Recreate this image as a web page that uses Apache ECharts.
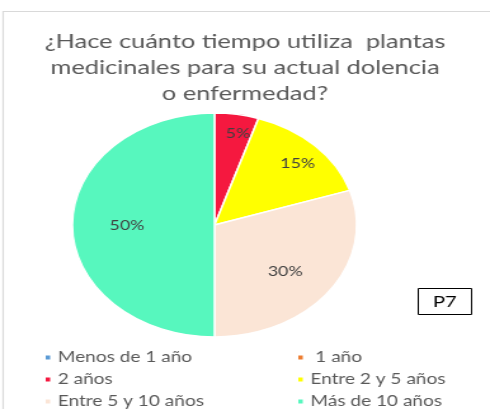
<!DOCTYPE html>
<html><head><meta charset="utf-8">
<script src="https://cdn.jsdelivr.net/npm/echarts@6/dist/echarts.min.js"></script>
<style>html,body{margin:0;padding:0;background:#fff;overflow:hidden;width:490px;height:409px}
#chart{width:386px;height:409px;transform:scaleX(1.2694);transform-origin:0 0;}</style>
</head><body><div id="chart"></div>
<script>
const titleText = "¿Hace cuánto tiempo utiliza  plantas\nmedicinales para su actual dolencia\no enfermedad?";
const categories = ["Menos de 1 año", " 1 año", "2 años", "Entre 2 y 5 años", "Entre 5 y 10 años", "Más de 10 años"];
const values = [0, 0, 5, 15, 30, 50];
const colors = ["#5B9BD5", "#ED7D31", "#F5183F", "#FFFF00", "#FBE5D6", "#57F7BE"];
const leftLegend = [categories[0], categories[2], categories[4]];
const rightLegend = [categories[1], categories[3], categories[5]];
const boxLabel = "P7";
const labelShift = [[0, 0], [0, 0], [6, -13], [9, -5], [-9, -1], [11, 0]];

const data = categories.map((c, i) => ({ name: c, value: values[i] }));
const FONT = "Lato";
const chart = echarts.init(document.getElementById('chart'), null, { renderer: 'canvas' });
const legendCommon = {
  orient: 'vertical', icon: 'rect', itemWidth: 5.5, itemHeight: 6, itemGap: 7, padding: 0, height: 80,
  textStyle: { fontFamily: FONT, fontSize: 15, color: '#595959', lineHeight: 14 },
  selectedMode: false
};
chart.setOption({
  animation: false,
  color: colors,
  graphic: [{ type: 'rect', shape: { x: 2.5, y: 11.5, width: 500, height: 500 }, style: { fill: 'none', stroke: '#D9D9D9', lineWidth: 1.2 }, silent: true }],
  title: [
    { text: titleText, left: 'center', top: 29, padding: 0,
      textStyle: { fontFamily: FONT, fontSize: 20, fontWeight: 'normal', color: '#595959', lineHeight: 26, align: 'center' } },
    { text: boxLabel, left: 329, top: 288, padding: [5, 12, 4, 12], borderColor: '#000', borderWidth: 1,
      textStyle: { fontFamily: FONT, fontSize: 16, fontWeight: 'normal', color: '#000', lineHeight: 18 } }
  ],
  legend: [
    Object.assign({ left: 34, top: 350, data: leftLegend }, legendCommon),
    Object.assign({ left: 233, top: 350, data: rightLegend }, legendCommon)
  ],
  series: [
    { type: 'pie', center: [169, 225], radius: [0, 112], startAngle: 90, clockwise: true,
      data: data, label: { show: false }, labelLine: { show: false },
      itemStyle: { borderColor: '#fff', borderWidth: 1.5 }, emphasis: { disabled: true }, silent: true },
    { type: 'pie', center: [169, 225], radius: [0, 154], startAngle: 90, clockwise: true,
      data: data, itemStyle: { color: 'rgba(0,0,0,0)' }, labelLine: { show: false },
      label: { show: true, position: 'inside', fontFamily: FONT, fontSize: 14, color: '#404040',
        formatter: p => p.value ? p.value + '%' : '' },
      labelLayout: p => ({ dx: labelShift[p.dataIndex][0], dy: labelShift[p.dataIndex][1] }),
      emphasis: { disabled: true }, silent: true, legendHoverLink: false }
  ]
});
</script></body></html>
